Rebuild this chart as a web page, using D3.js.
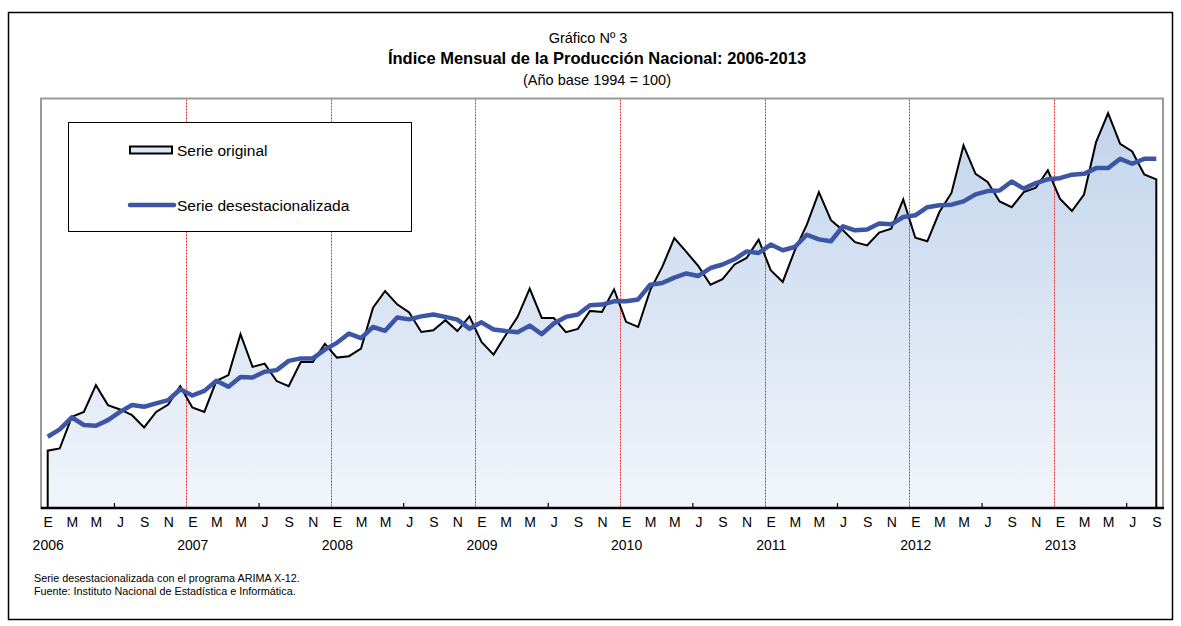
<!DOCTYPE html>
<html>
<head>
<meta charset="utf-8">
<script src="https://cdn.jsdelivr.net/npm/d3@7"></script>
<style>
	body { margin: 0; background: #fff; }
	svg { display: block; }
	.narrow { font-family: "Liberation Sans Narrow", "Arial Narrow", "Liberation Sans", sans-serif; }
	.plain { font-family: "Liberation Sans", Arial, sans-serif; }
</style>
</head>
<body>
<div id="chart"></div>
<script>

// month letters (Spanish), years shown on the axis
const monthLetters = ["E", "F", "M", "A", "M", "J", "J", "A", "S", "O", "N", "D"]
const years = [2006, 2007, 2008, 2009, 2010, 2011, 2012, 2013]

// Serie original, E 2006 .. S 2013
const original = [
	161.0, 161.8, 173.4, 175.2, 185.0, 177.7, 176.1, 174.0, 169.5, 175.2, 177.9, 184.6,
	176.8, 175.2, 186.6, 188.7, 203.7, 191.7, 192.9, 186.5, 184.6, 193.5, 193.5, 200.1,
	195.1, 195.6, 198.4, 213.4, 219.5, 214.6, 211.6, 204.5, 205.1, 208.8, 204.8, 210.2,
	200.8, 196.2, 203.3, 210.0, 220.4, 209.6, 209.6, 204.4, 205.6, 212.2, 211.8, 220.1,
	208.2, 206.3, 219.8, 228.3, 238.9, 233.8, 228.6, 221.8, 223.8, 229.2, 231.6, 238.3,
	227.1, 222.8, 234.4, 243.8, 255.7, 245.4, 241.7, 237.4, 236.2, 240.9, 242.3, 253.0,
	239.0, 237.7, 248.4, 255.4, 272.8, 262.4, 259.4, 252.3, 250.2, 255.7, 257.3, 263.7,
	253.3, 248.8, 254.8, 274.0, 284.6, 273.4, 270.6, 262.2, 260.4
]

// Serie desestacionalizada
const desest = [
	166.1, 168.8, 173.2, 170.4, 170.1, 172.2, 175.2, 177.7, 177.1, 178.3, 179.5, 183.5,
	181.2, 182.9, 186.6, 184.4, 188.0, 187.8, 189.9, 190.5, 193.9, 194.8, 194.8, 198.0,
	200.5, 203.9, 202.2, 206.3, 204.9, 209.8, 209.1, 210.2, 210.9, 210.0, 209.0, 205.7,
	208.0, 205.4, 204.8, 204.4, 206.8, 203.7, 207.6, 210.0, 210.9, 214.3, 214.5, 215.7,
	215.7, 216.4, 221.8, 222.4, 224.4, 225.9, 225.0, 227.9, 229.2, 231.1, 234.0, 233.4,
	236.5, 234.4, 235.6, 240.1, 238.4, 237.7, 243.2, 241.7, 242.0, 244.2, 243.9, 246.6,
	247.2, 250.2, 250.9, 251.1, 252.3, 254.9, 256.1, 256.3, 259.6, 257.0, 259.0, 260.4,
	260.8, 262.1, 262.4, 264.5, 264.5, 267.9, 266.1, 267.9, 267.9
]

const width = 1181
const height = 626
const plot = { left: 41, right: 1163, top: 98.5, bottom: 508 }

const svg = d3.select("#chart").append("svg")
	.attr("width", width)
	.attr("height", height)

// outer frame
svg.append("rect")
	.attr("x", 8.5).attr("y", 12.5)
	.attr("width", 1164).attr("height", 607)
	.attr("fill", "none")
	.attr("stroke", "#000")
	.attr("stroke-width", 1.5)

// titles
const titles = svg.append("g").attr("class", "narrow").attr("text-anchor", "middle").attr("fill", "#000")
titles.append("text").attr("x", 588).attr("y", 43).attr("font-size", 14.5).text("Gráfico Nº 3")
titles.append("text").attr("x", 597).attr("y", 64).attr("font-size", 16.5).attr("font-weight", "bold")
	.text("Índice Mensual de la Producción Nacional: 2006-2013")
titles.append("text").attr("x", 597).attr("y", 85).attr("font-size", 14.5).text("(Año base 1994 = 100)")

const n = original.length
const x = d3.scaleLinear().domain([0, n - 1]).range([47.7, 1156.3])
const y = d3.scaleLinear().domain([140, 290]).range([plot.bottom, plot.top])

// gradient fill for the original series
const defs = svg.append("defs")
const grad = defs.append("linearGradient")
	.attr("id", "fillGrad")
	.attr("gradientUnits", "userSpaceOnUse")
	.attr("x1", 0).attr("x2", 0)
	.attr("y1", plot.top).attr("y2", plot.bottom)
grad.append("stop").attr("offset", "0%").attr("stop-color", "#c0d3eb")
grad.append("stop").attr("offset", "100%").attr("stop-color", "#f2f5fb")

// plot frame
svg.append("rect")
	.attr("x", plot.left).attr("y", plot.top)
	.attr("width", plot.right - plot.left).attr("height", plot.bottom - plot.top)
	.attr("fill", "#fff")
	.attr("stroke", "#9a9a9a")
	.attr("stroke-width", 2)

// area
svg.append("path")
	.datum(original)
	.attr("fill", "url(#fillGrad)")
	.attr("d", d3.area().x((d, i) => x(i)).y0(plot.bottom).y1(d => y(d)))

// year separators (between D and E)
const sepX = (d, i) => Math.round(x((i + 1) * 12 - 0.5)) + 0.5
svg.append("g")
	.selectAll("line")
	.data(years.slice(1))
	.join("line")
	.attr("x1", sepX)
	.attr("x2", sepX)
	.attr("y1", plot.top + 1)
	.attr("y2", plot.bottom)
	.attr("stroke", "#ee3030")
	.attr("stroke-width", 1)
	.attr("stroke-dasharray", "2,1")

// outline of the original series, dropping to the axis at both ends
const outline = [[x(0), plot.bottom]]
	.concat(original.map((d, i) => [x(i), y(d)]))
	.concat([[x(n - 1), plot.bottom]])
svg.append("path")
	.attr("d", d3.line()(outline))
	.attr("fill", "none")
	.attr("stroke", "#000")
	.attr("stroke-width", 2)
	.attr("stroke-linejoin", "miter")

// seasonally adjusted series
svg.append("path")
	.datum(desest)
	.attr("fill", "none")
	.attr("stroke", "#3c55a5")
	.attr("stroke-width", 4.5)
	.attr("stroke-linejoin", "round")
	.attr("d", d3.line().x((d, i) => x(i)).y(d => y(d)))

// x axis line
svg.append("line")
	.attr("x1", plot.left).attr("x2", plot.right + 1)
	.attr("y1", plot.bottom).attr("y2", plot.bottom)
	.attr("stroke", "#000").attr("stroke-width", 2.5)

// small tick marks
const tickAxis = d3.axisBottom(x)
	.tickValues(d3.range(5.5, n, 12))
	.tickSize(-5)
	.tickFormat("")
const tickG = svg.append("g").attr("transform", `translate(0,${plot.bottom})`).call(tickAxis)
tickG.select(".domain").remove()
tickG.selectAll("line").attr("stroke", "#000").attr("stroke-width", 1.2)

// month letters
const monthAxis = d3.axisBottom(x)
	.tickValues(d3.range(0, n, 2))
	.tickSize(0)
	.tickPadding(0)
	.tickFormat(i => monthLetters[i % 12])
const monthG = svg.append("g").attr("transform", `translate(0,${plot.bottom + 9})`).call(monthAxis)
monthG.select(".domain").remove()
monthG.selectAll("text").attr("class", "narrow").attr("font-size", 14).attr("fill", "#000")
	.attr("font-family", null)

// years
const yearAxis = d3.axisBottom(x)
	.tickValues(d3.range(0, n, 12))
	.tickSize(0)
	.tickPadding(0)
	.tickFormat(i => years[i / 12])
const yearG = svg.append("g").attr("transform", `translate(0,${plot.bottom + 32})`).call(yearAxis)
yearG.select(".domain").remove()
yearG.selectAll("text").attr("class", "narrow").attr("font-size", 14).attr("fill", "#000")
	.attr("font-family", null)

// legend
const legend = svg.append("g")
legend.append("rect")
	.attr("x", 68.5).attr("y", 122.5)
	.attr("width", 343).attr("height", 109)
	.attr("fill", "#fff")
	.attr("stroke", "#000").attr("stroke-width", 1)
legend.append("rect")
	.attr("x", 130).attr("y", 146.5)
	.attr("width", 42).attr("height", 7)
	.attr("fill", "#dde6f4")
	.attr("stroke", "#000").attr("stroke-width", 2)
legend.append("line")
	.attr("x1", 130).attr("x2", 174)
	.attr("y1", 205).attr("y2", 205)
	.attr("stroke", "#3c55a5").attr("stroke-width", 4.5)
	.attr("stroke-linecap", "round")
legend.append("text").attr("class", "plain").attr("x", 177).attr("y", 155.5)
	.attr("font-size", 15.5).text("Serie original")
legend.append("text").attr("class", "plain").attr("x", 177).attr("y", 210.5)
	.attr("font-size", 15.5).text("Serie desestacionalizada")

// notes
const notes = svg.append("g").attr("class", "plain").attr("font-size", 10.8).attr("fill", "#000")
notes.append("text").attr("x", 34).attr("y", 582).text("Serie desestacionalizada con el programa ARIMA X-12.")
notes.append("text").attr("x", 34).attr("y", 595).text("Fuente: Instituto Nacional de Estadística e Informática.")

</script>
</body>
</html>
